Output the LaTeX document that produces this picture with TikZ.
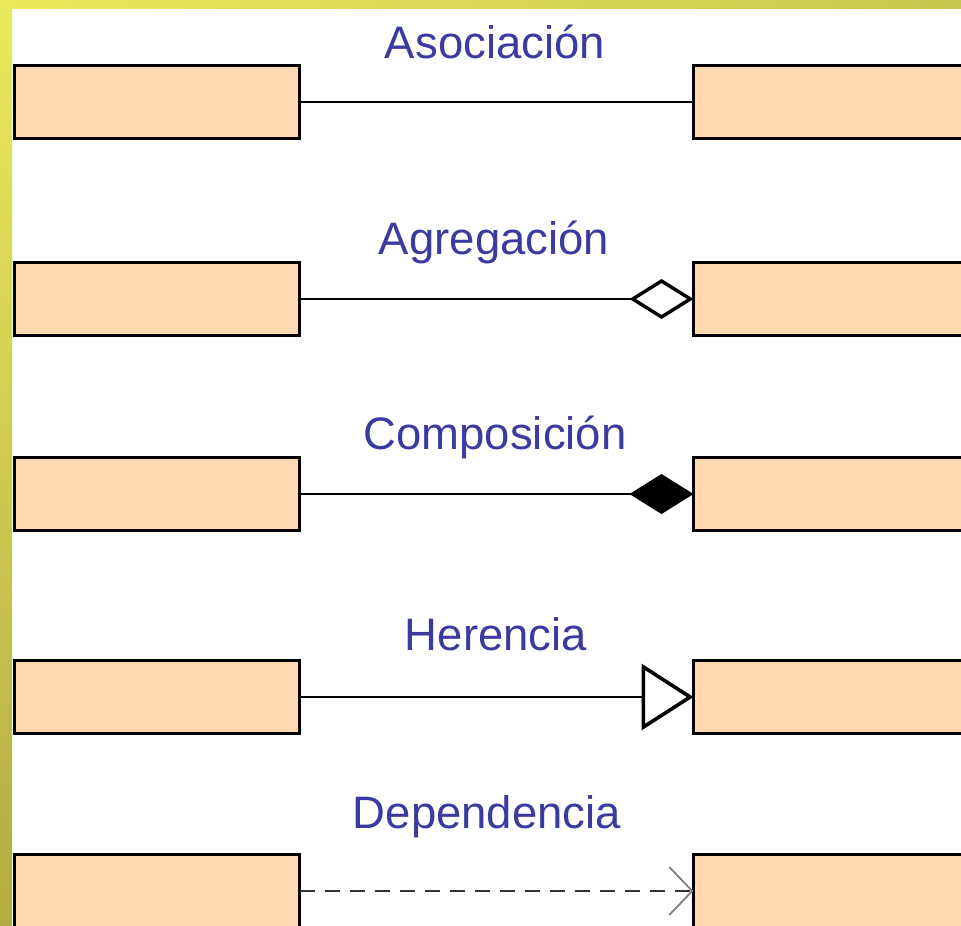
\documentclass[tikz,border=0pt]{standalone}
\usepackage{fontspec}
\setmainfont{Liberation Sans}
\usetikzlibrary{arrows.meta}
\definecolor{peach}{RGB}{254,217,175}
\definecolor{labelblue}{RGB}{58,58,160}
\definecolor{stripyellow}{RGB}{234,234,92}
\definecolor{stripolive}{RGB}{178,172,68}
\definecolor{striptopright}{RGB}{200,200,80}
\tikzset{
  classbox/.style={draw=black,line width=3.4pt,fill=peach,minimum width=285pt,minimum height=73pt,inner sep=0pt,outer sep=0pt},
  rellabel/.style={text=labelblue,anchor=base,font=\fontsize{45.5}{54}\selectfont},
  relline/.style={line width=1.8pt,draw=black}
}
\begin{document}
\begin{tikzpicture}[x=1pt,y=-1pt]
\useasboundingbox (0,0) rectangle (961,926);
% frame strips
\shade[left color=stripyellow,right color=striptopright] (0,0) rectangle (961,8);
\shade[top color=stripyellow,bottom color=stripolive] (0,0) rectangle (12,926);
% Asociacion
\node[classbox] (asocA) at (157,102) {};
\node[classbox] (asocB) at (836,102) {};
\node[rellabel] (lAsoc) at (495,58) {Asociación};
\draw[relline] (asocA) -- (asocB);
% Agregacion
\node[classbox] (agreA) at (157,299) {};
\node[classbox] (agreB) at (836,299) {};
\node[rellabel] (lAgre) at (494,254) {Agregación};
\draw[relline,-{Diamond[open,length=64pt,width=40pt,line width=3.4pt,color=black]}] (agreA) -- (agreB);
% Composicion
\node[classbox] (compA) at (157,494) {};
\node[classbox] (compB) at (836,494) {};
\node[rellabel] (lComp) at (495,449) {Composición};
\draw[relline,-{Diamond[length=64pt,width=40pt,line width=3.4pt,color=black]}] (compA) -- (compB);
% Herencia
\node[classbox] (herA) at (157,697) {};
\node[classbox] (herB) at (836,697) {};
\node[rellabel] (lHer) at (496,650) {Herencia};
\draw[relline,-{Triangle[open,length=52pt,width=66pt,line width=3.6pt,color=black]}] (herA) -- (herB);
% Dependencia
\node[classbox] (depA) at (157,891) {};
\node[classbox] (depB) at (836,891) {};
\node[rellabel] (lDep) at (487,828) {Dependencia};
\draw[relline,draw=black!80,dash pattern=on 15pt off 10pt,-{Straight Barb[length=23pt,width=48pt,line width=1.8pt,color=black!50]}] (depA) -- (depB);
\end{tikzpicture}
\end{document}
